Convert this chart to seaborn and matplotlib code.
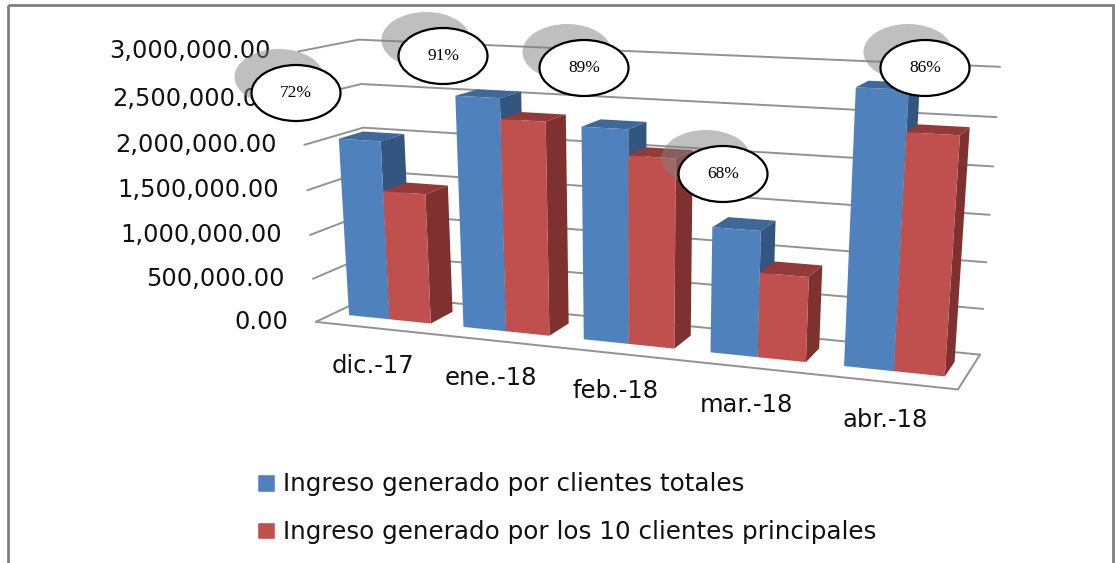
import numpy as np
import pandas as pd
import seaborn as sns
import matplotlib.pyplot as plt
from matplotlib.patches import Ellipse, Patch, Polygon, Rectangle
from matplotlib.transforms import Affine2D, Transform

ANCHO, ALTO = 1115, 563

# datos
meses = ['dic.-17', 'ene.-18', 'feb.-18', 'mar.-18', 'abr.-18']
ingreso_total = [2020000, 2560000, 2310000, 1350000, 2850000]
ingreso_top10 = [1470000, 2340000, 2040000, 910000, 2440000]
porcentajes = ['72%', '91%', '89%', '68%', '86%']
ticks_y = [0, 500000, 1000000, 1500000, 2000000, 2500000, 3000000]
series = ['Ingreso generado por clientes totales', 'Ingreso generado por los 10 clientes principales']

# esquinas de la caja 3d en pixeles: (x, valor, fondo) -> (px, py)
X0, X1, YMAX = -0.5, 4.5, 3000000
esquinas = [
    (X0, 0, 0, 316, 320), (X1, 0, 0, 958, 391),
    (X1, 0, 1, 980, 353), (X0, 0, 1, 372, 297),
    (X0, YMAX, 1, 359, 39), (X1, YMAX, 1, 1000, 67),
    (X0, YMAX, 0, 298, 52),
]

# ajuste de la camara (dlt)
filas = []
for x, v, d, px, py in esquinas:
    p = [x, v / YMAX, d, 1]
    filas.append(p + [0, 0, 0, 0] + [-px * c for c in p])
    filas.append([0, 0, 0, 0] + p + [-py * c for c in p])
camara = np.linalg.svd(np.array(filas, dtype=float))[2][-1].reshape(3, 4)


def proyectar(x, v, d):
    # devuelve pixeles de la imagen, con y hacia abajo
    x, v = np.asarray(x, dtype=float), np.asarray(v, dtype=float)
    d = np.broadcast_to(d, x.shape)
    p = np.stack([x, v / YMAX, d, np.ones_like(x)], axis=-1)
    q = p @ camara.T
    return np.stack([q[..., 0] / q[..., 2], q[..., 1] / q[..., 2]], axis=-1)


class Proyeccion(Transform):
    input_dims = output_dims = 2

    def __init__(self, fondo):
        super().__init__()
        self.fondo = fondo

    def transform_non_affine(self, values):
        values = np.asarray(values)
        salida = proyectar(values[:, 0], values[:, 1], self.fondo)
        salida[:, 1] = ALTO - salida[:, 1]
        return salida


sns.set_theme(style='white')
fig = plt.figure(figsize=(ANCHO / 100, ALTO / 100), dpi=100)
ax = fig.add_axes([0, 0, 1, 1])
pix = Affine2D().scale(1, -1).translate(0, ALTO)

df = pd.DataFrame({
    'mes': meses * 2,
    'ingreso': ingreso_total + ingreso_top10,
    'serie': [series[0]] * 5 + [series[1]] * 5,
})
azul, rojo = '#4f81bd', '#c0504d'
sns.barplot(df, x='mes', y='ingreso', hue='serie', order=meses, hue_order=series,
            palette=[azul, rojo], width=0.72, saturation=1, legend=False, ax=ax)
ax.set_axis_off()

# marco exterior
ax.add_patch(Rectangle((8, 5), 1105, 600, transform=pix, fill=False, ec='#808080', lw=2, clip_on=False))

# lineas de las paredes y el piso
gris = '#929292'
for v in ticks_y:
    a = proyectar([X0, X0, X1], [v, v, v], 0)
    a[1:] = proyectar([X0, X1], [v, v], 1)
    ax.plot(a[:, 0], a[:, 1], color=gris, lw=1.4, transform=pix, zorder=1)
    ax.text(a[0, 0] - 28, a[0, 1], f'{v:,.2f}', transform=pix, ha='right', va='center',
            fontsize=17.4, color='#111111', zorder=2)
piso = proyectar([X0, X1, X1], [0, 0, 0], 0)
piso[2] = proyectar([X1], [0], 1)[0]
ax.plot(piso[:, 0], piso[:, 1], color=gris, lw=1.4, transform=pix, zorder=1)

# barras: el frente lo dibuja seaborn, los lados salen de cada barra
D0, D1 = 0.3, 0.72
caras = [('#3e6899', '#34557f'), ('#933a38', '#7f3130')]
for i in range(len(meses)):
    for j, cont in enumerate(ax.containers):
        bar = cont[i]
        xa, xb, h = bar.get_x(), bar.get_x() + bar.get_width(), bar.get_height()
        z = 3 + i * 3 + j * 3 / 2
        sup = np.vstack([proyectar([xa, xb], [h, h], D0), proyectar([xb, xa], [h, h], D1)])
        lado = np.vstack([proyectar([xb, xb], [0, h], D0), proyectar([xb, xb], [h, 0], D1)])
        ax.add_patch(Polygon(sup, closed=True, transform=pix, fc=caras[j][0], ec='none', zorder=z))
        ax.add_patch(Polygon(lado, closed=True, transform=pix, fc=caras[j][1], ec='none', zorder=z))
        bar.set_transform(Proyeccion(D0))
        bar.set_edgecolor('none')
        bar.set_zorder(z + 0.1)

# etiquetas de meses
base = proyectar(np.arange(5), np.zeros(5), 0)
for m, (px, py) in zip(meses, base):
    ax.text(px, py + 38, m, transform=pix, ha='center', va='center', fontsize=17.5, color='#111111', zorder=30)

# globos con porcentaje
centros = [(296, 93), (443, 56), (584, 68), (723, 174), (925, 68)]
for txt, (cx, cy) in zip(porcentajes, centros):
    ax.add_patch(Ellipse((cx - 17, cy - 16), 89, 56, transform=pix, fc='#808080', alpha=0.5, ec='none', zorder=40))
    ax.add_patch(Ellipse((cx, cy), 89, 56, transform=pix, fc='white', ec='black', lw=1.6, zorder=41))
    ax.text(cx, cy, txt, transform=pix, ha='center', va='center', family='Liberation Serif',
            fontsize=12.5, color='black', zorder=42)

# leyenda
ax.legend(handles=[Patch(fc=azul, label=series[0]), Patch(fc=rojo, label=series[1])],
          loc='upper left', bbox_to_anchor=(257 / ANCHO, 1 - 472.5 / ALTO), bbox_transform=fig.transFigure,
          frameon=False, fontsize=17.7, handlelength=0.75, handleheight=0.7, handletextpad=0.3,
          labelspacing=0.95, borderpad=0, borderaxespad=0, labelcolor='#111111')

fig.savefig('out.png', dpi=100)
